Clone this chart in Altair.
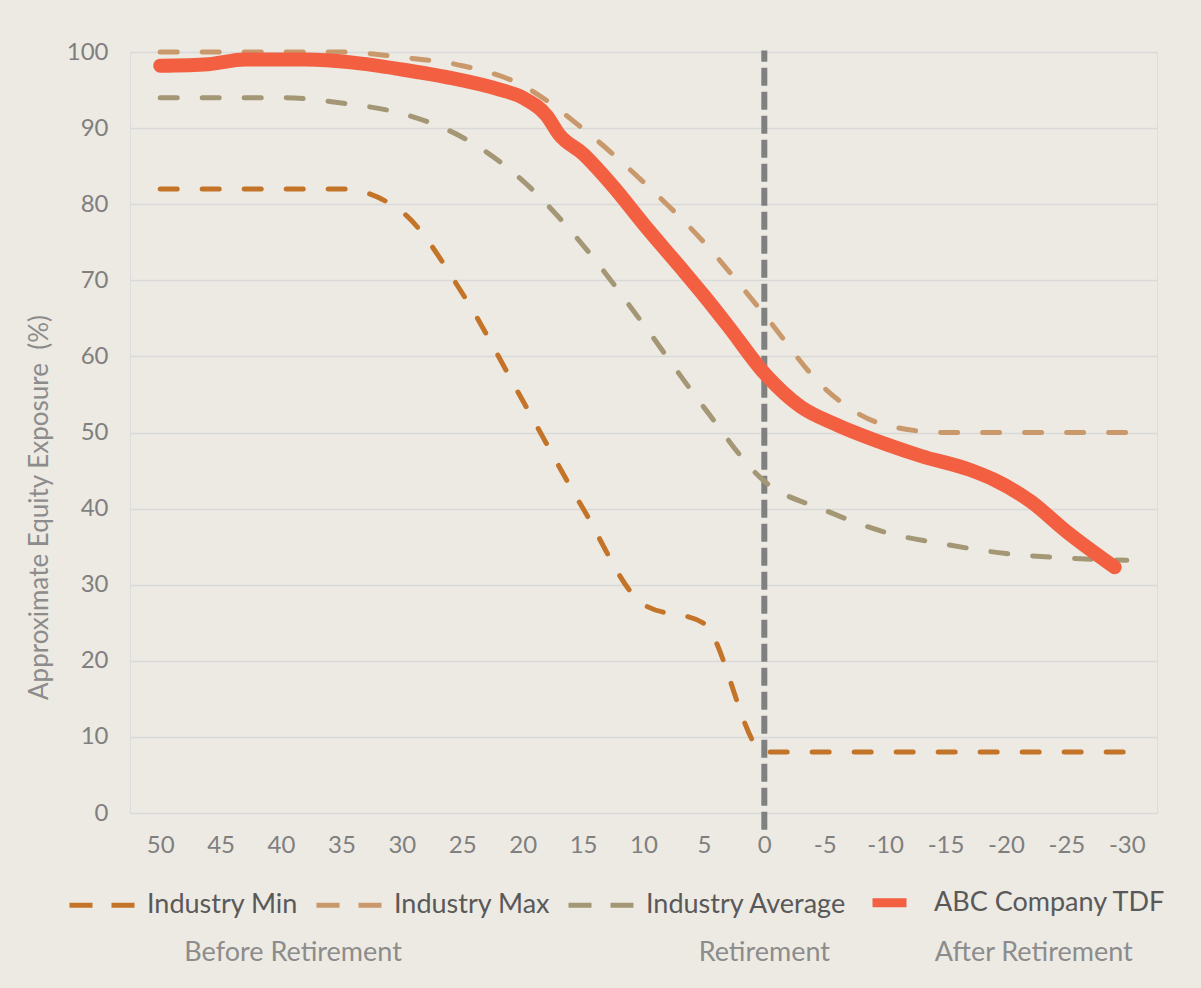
import altair as alt
import pandas as pd

# Years before (+) and after (-) retirement
years = [50, 45, 40, 35, 30, 25, 20, 15, 10, 5, 0, -5, -10, -15, -20, -25, -30]
industry_min = [82, 82, 82, 82, 79, 68.3, 54.2, 40, 27.4, 24.9, 8, 8, 8, 8, 8, 8, 8]
industry_max = [100, 100, 100, 100, 99.3, 98.2, 95.6, 89.9, 82.9, 75, 65.5, 55.8, 51, 50, 50, 50, 50]
industry_avg = [94, 94, 94, 93.3, 91.9, 88.8, 83.1, 74.6, 64.2, 53.3, 43.6, 39.8, 36.9, 35.3, 34.1, 33.5, 33.2]

abc_years = [50, 46, 43, 38, 34, 30, 26, 22, 20, 18, 17, 15, 12.5, 10, 7, 5, 3, 0,
             -3, -6, -10, -13, -17, -19, -22, -25, -29]
abc_tdf = [98.2, 98.4, 99.0, 99.0, 98.6, 97.7, 96.6, 95.1, 94.0, 91.6, 89.2, 86.6, 82.3, 77.4,
           71.8, 68.0, 64.0, 57.8, 53.4, 51.0, 48.5, 46.9, 45.1, 43.8, 41.0, 37.0, 32.3]

series_names = ["Industry Min", "Industry Max", "Industry Average", "ABC Company TDF"]
series_colors = ["#C47428", "#C9996C", "#A49775", "#F26041"]

phase_labels = ["Before Retirement", "Retirement", "After Retirement"]
phase_years = [39, 0, -22.3]

rows = []
for name, vals in zip(series_names[:3], [industry_min, industry_max, industry_avg]):
    for yr, v in zip(years, vals):
        rows.append({"series": name, "year": yr, "value": v})
for yr, v in zip(abc_years, abc_tdf):
    rows.append({"series": series_names[3], "year": yr, "value": v})
df = pd.DataFrame(rows)

FONT = "Lato"
is_abc = "datum.value === 'ABC Company TDF'"
legend = alt.Legend(
    title=None, orient="none", direction="horizontal", legendX=-41, legendY=837,
    symbolType="stroke",
    symbolSize=alt.ExprRef(expr=f"{is_abc} ? 1156 : 4356"),
    symbolStrokeWidth=alt.ExprRef(expr=f"{is_abc} ? 9 : 5"),
    symbolDash=alt.ExprRef(expr=f"{is_abc} ? [1, 0] : [23, 19]"),
    labelFontSize=27, labelColor="#595959", labelFont=FONT, labelLimit=400,
    labelOffset=31, columnPadding=7,
)

x_enc = alt.X(
    "year:Q",
    scale=alt.Scale(domain=[-32.5, 52.5], reverse=True, nice=False, zero=False),
    axis=alt.Axis(values=years, labelExpr="'' + datum.value", grid=False, domain=False,
                  ticks=False, labelFontSize=24, labelColor="#7F7F7F", labelPadding=20,
                  title=None),
)
y_enc = alt.Y(
    "value:Q",
    scale=alt.Scale(domain=[0, 100], nice=False),
    axis=alt.Axis(values=list(range(0, 101, 10)), grid=True, gridColor="#D9D9D9", gridWidth=1.5,
                  domain=False, ticks=False, labelFontSize=24, labelColor="#7F7F7F",
                  labelPadding=22, title="Approximate Equity Exposure\u00a0 (%)", titleFontSize=26,
                  titleColor="#8C8C8C", titleFontWeight="normal", titlePadding=14, titleY=455),
)
color_enc = alt.Color("series:N", scale=alt.Scale(domain=series_names, range=series_colors),
                      legend=legend)

base = alt.Chart(df).encode(x=x_enc, y=y_enc, color=color_enc)
industry = base.transform_filter(alt.datum.series != series_names[3]).mark_line(
    interpolate="monotone", strokeWidth=5, strokeDash=[17, 25], strokeCap="round")
abc = base.transform_filter(alt.datum.series == series_names[3]).mark_line(
    interpolate="monotone", strokeWidth=14, strokeCap="round", strokeJoin="round")

# Retirement marker at year 0
rule_df = pd.DataFrame({"year": [0], "lo": [-2.2], "hi": [100.2]})
retire = alt.Chart(rule_df).mark_rule(color="#808080", strokeWidth=6, strokeDash=[18, 6]).encode(
    x="year:Q", y="lo:Q", y2="hi:Q")

phase_df = pd.DataFrame({"label": phase_labels, "year": phase_years})
phases = alt.Chart(phase_df).mark_text(font=FONT, fontSize=27, color="#8C8C8C",
                                       align="center", baseline="middle").encode(
    x="year:Q", y=alt.value(901), text="label:N")

chart = alt.layer(retire, industry, abc, phases).properties(
    width=1027, height=761,
    autosize=alt.AutoSizeParams(type="none"),
    padding={"left": 130, "top": 52, "right": 44, "bottom": 175},
    background="#EDEAE3",
).configure_view(stroke=None).configure(font=FONT)

chart.save("out.html", embed_options={"renderer": "svg", "actions": False})
